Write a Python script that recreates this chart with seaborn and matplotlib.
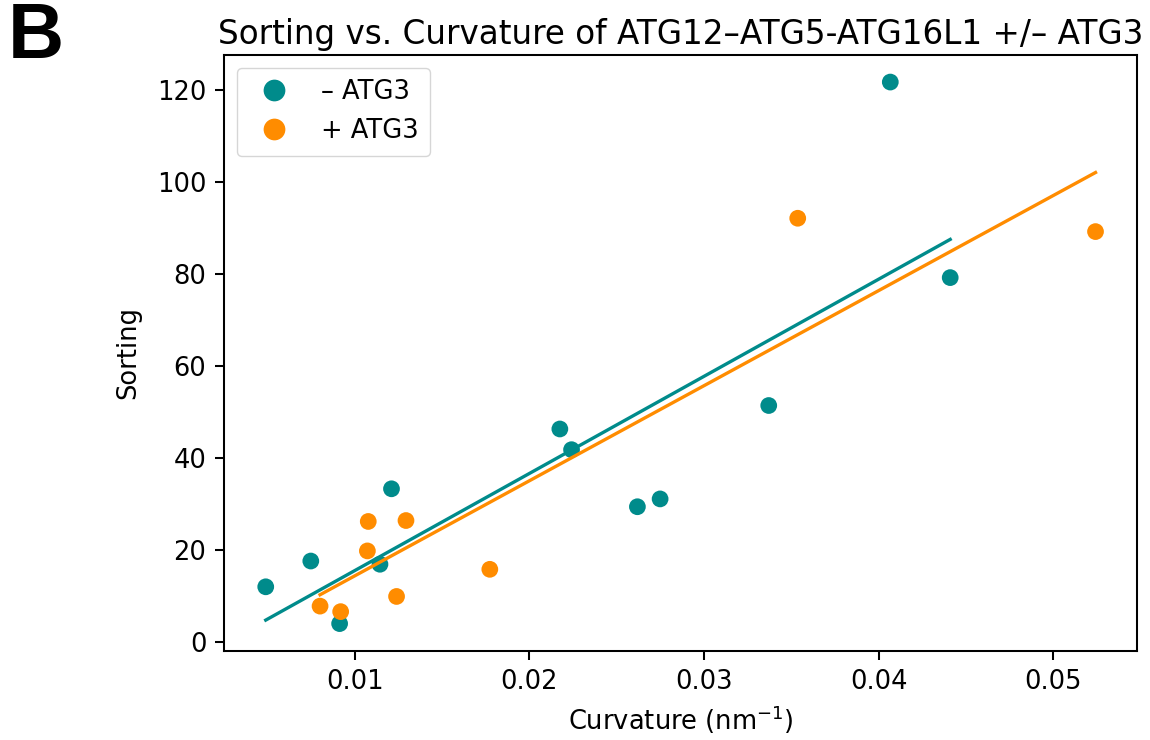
"""
Sorting vs. curvature scatter with linear fits (panel B)
"""

import numpy as np
import pandas as pd
import matplotlib
matplotlib.use('Agg')
import matplotlib.pyplot as plt
import seaborn as sns

# Curvature (nm^-1) and sorting values
CURV_MINUS = [0.00491, 0.00749, 0.00914, 0.01145, 0.01211, 0.02175, 0.02242,
              0.02619, 0.02749, 0.03371, 0.04067, 0.04410]
SORT_MINUS = [12.0, 17.6, 4.0, 16.9, 33.3, 46.3, 41.8, 29.4, 31.1, 51.4, 121.7, 79.2]

CURV_PLUS = [0.00802, 0.00920, 0.01073, 0.01078, 0.01240, 0.01294, 0.01774,
             0.03537, 0.05242]
SORT_PLUS = [7.8, 6.6, 19.8, 26.2, 9.9, 26.4, 15.8, 92.1, 89.2]

LABELS = ['\u2013 ATG3', '+ ATG3']
COLORS = {LABELS[0]: 'darkcyan', LABELS[1]: 'darkorange'}

df = pd.DataFrame({
    'Curvature': CURV_MINUS + CURV_PLUS,
    'Sorting': SORT_MINUS + SORT_PLUS,
    'group': [LABELS[0]] * len(CURV_MINUS) + [LABELS[1]] * len(CURV_PLUS),
})

# original was plain matplotlib defaults rendered large, so scale everything
S = 1.85
plt.rcParams['font.family'] = ['DejaVu Sans']
plt.rcParams['axes.linewidth'] = 0.8 * S

fig = plt.figure(figsize=(11.5, 7.4), dpi=100)
ax = fig.add_axes([0.195, 0.1207, 0.7937, 0.805])

sns.scatterplot(data=df, x='Curvature', y='Sorting', hue='group',
                palette=COLORS, s=145, linewidth=0, ax=ax)

for lab in LABELS:
    sub = df[df['group'] == lab]
    sns.regplot(data=sub, x='Curvature', y='Sorting', scatter=False, ci=None,
                color=COLORS[lab], line_kws={'linewidth': 2.4}, ax=ax)

ax.set_xticks([0.01, 0.02, 0.03, 0.04, 0.05])
ax.set_yticks([0, 20, 40, 60, 80, 100, 120])
ax.tick_params(labelsize=10 * S, length=3.5 * S, width=0.8 * S, pad=3.5 * S)
ax.set_xlabel('Curvature (nm$^{-1}$)', fontsize=10 * S, labelpad=6)
ax.set_ylabel('Sorting', fontsize=10 * S, labelpad=11)
ax.set_title('Sorting vs. Curvature of ATG12\u2013ATG5-ATG16L1 +/\u2013 ATG3',
             fontsize=23.5, pad=8)

leg = ax.legend(loc='upper left', fontsize=10 * S, borderpad=0.45,
                markerscale=1.3)
leg.get_frame().set_linewidth(1.0)

fig.text(0.007, 0.999, 'B', fontsize=56, fontweight='bold',
         family='Liberation Sans', ha='left', va='top')

fig.savefig('out.png', dpi=100)
